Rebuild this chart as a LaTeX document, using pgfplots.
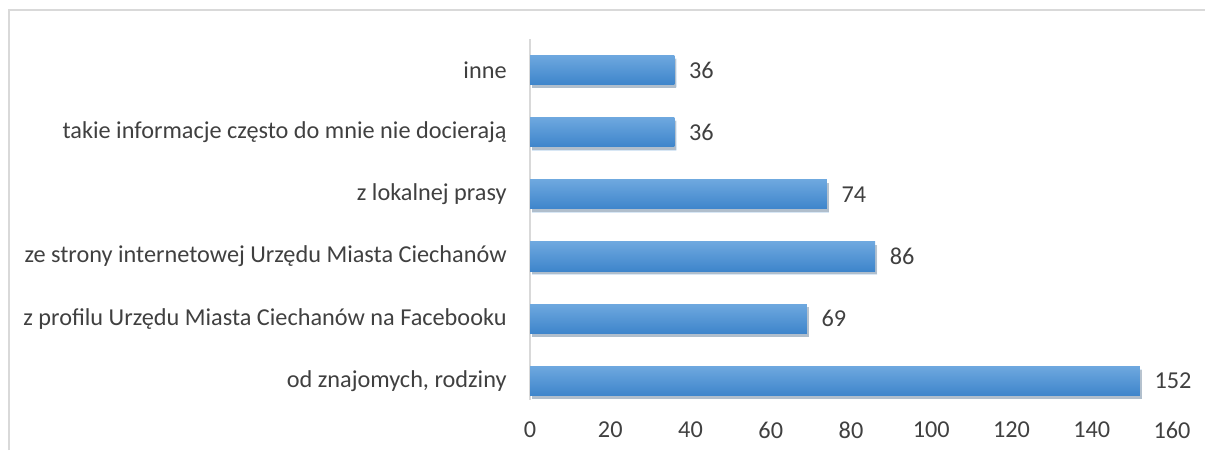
\documentclass[border=0pt]{standalone}
\usepackage{pgfplots}
\pgfplotsset{compat=1.18}
\usepackage{fontspec}
\setmainfont{Carlito}
\usetikzlibrary{shadows}
\definecolor{bartop}{HTML}{6EA8DF}
\definecolor{barbot}{HTML}{3E85CB}
\definecolor{txt}{HTML}{404040}
\definecolor{frame}{HTML}{D9D9D9}

\begin{document}
\begin{tikzpicture}
\path[use as bounding box] (0,0) rectangle (903.75pt,337.5pt);
\draw[frame, line width=1.5pt] (6.75pt,0) -- (6.75pt,330pt) -- (903.75pt,330pt);
\begin{axis}[
    at={(397.5pt,28.5pt)}, anchor=south west,
    scale only axis, width=481.5pt, height=279.9pt,
    xbar, bar width=0.47, bar shift=0pt,
    xmin=0, xmax=160, ymin=-0.5, ymax=5.5,
    xtick={0,20,...,160},
    ytick={0,...,5},
    yticklabels={{od znajomych, rodziny},
                 {z profilu Urzędu Miasta Ciechanów na Facebooku},
                 {ze strony internetowej Urzędu Miasta Ciechanów},
                 {z lokalnej prasy},
                 {takie informacje często do mnie nie docierają},
                 {inne}},
    axis line style={draw=none},
    tick style={draw=none},
    major tick length=0pt,
    ticklabel style={font=\fontsize{18.2}{21}\selectfont, text=txt},
    /pgf/number format/assume math mode=true,
    yticklabel style={xshift=-14pt},
    xticklabel style={yshift=-4pt},
    nodes near coords,
    nodes near coords style={font=\fontsize{18.2}{21}\selectfont, text=txt, xshift=7.5pt},
    every axis plot/.append style={draw=none, shade, top color=bartop, bottom color=barbot,
        drop shadow={shadow xshift=1.5pt, shadow yshift=-2.5pt, fill=black, opacity=0.2}},
    clip=false,
]
\draw[frame, line width=1.5pt] (axis cs:0,-0.3) -- (axis cs:0,5.5);
\addplot coordinates {(152,0)};
\addplot coordinates {(69,1)};
\addplot coordinates {(86,2)};
\addplot coordinates {(74,3)};
\addplot coordinates {(36,4)};
\addplot coordinates {(36,5)};
\end{axis}
\end{tikzpicture}
\end{document}
